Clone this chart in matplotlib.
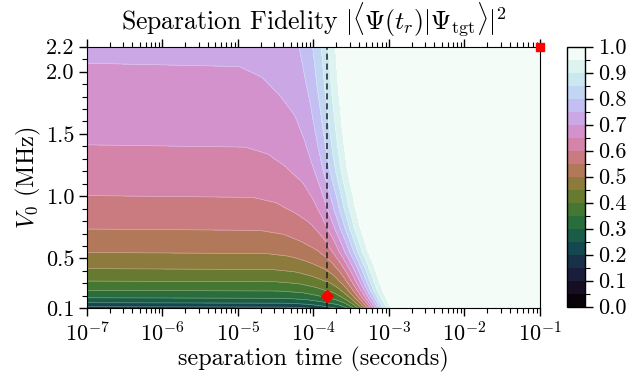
import numpy as np
import matplotlib
matplotlib.use("Agg")
import matplotlib.pyplot as plt
from matplotlib.ticker import MultipleLocator, FixedLocator, LogLocator, NullFormatter

plt.rcParams['font.family'] = 'serif'
plt.rcParams['font.serif'] = ['cmr10']
plt.rcParams['mathtext.fontset'] = 'cm'
plt.rcParams['axes.formatter.use_mathtext'] = True
plt.rcParams['axes.unicode_minus'] = False

# ---- data ----
# trap depth rows (MHz) and the plateau fidelity reached for short separation times
V0_rows = [0.10, 0.113, 0.145, 0.185, 0.245, 0.32, 0.42, 0.55, 0.64, 0.74, 0.90, 1.01,
           1.10, 1.20, 1.30, 1.42, 1.55, 1.70, 1.85, 1.95, 2.08, 2.20]
plateau_F = [0.175, 0.20, 0.25, 0.30, 0.35, 0.40, 0.45, 0.50, 0.525, 0.55, 0.582, 0.60,
             0.612, 0.625, 0.637, 0.65, 0.661, 0.673, 0.685, 0.692, 0.70, 0.708]
# shift (decades) of the transition towards longer times for each row
row_shift = [0.64, 0.63, 0.61, 0.58, 0.54, 0.50, 0.45, 0.37, 0.33, 0.28, 0.22, 0.19,
             0.16, 0.13, 0.11, 0.09, 0.07, 0.05, 0.03, 0.02, 0.01, 0.0]
# remaining infidelity fraction vs log10(time) for the top row
profile_logt = [-8.0, -5.0, -4.7, -4.5, -4.3, -4.2, -4.1, -4.0, -3.9, -3.8, -3.7, -3.6, -3.5, -3.4, 0.0]
profile_r = [1.0, 0.992, 0.975, 0.946, 0.905, 0.861, 0.787, 0.670, 0.517, 0.333, 0.157, 0.050, 0.0067, 0.0, 0.0]

t_sep = 1.5e-4      # dashed line / marker
V0_mark = 0.2
t_max, V0_max = 1e-1, 2.2

x_ticks = [1e-7, 1e-6, 1e-5, 1e-4, 1e-3, 1e-2, 1e-1]
y_ticks = [0.1, 0.5, 1.0, 1.5, 2.0, 2.2]
cb_ticks = [0.0, 0.1, 0.2, 0.3, 0.4, 0.5, 0.6, 0.7, 0.8, 0.9, 1.0]

# ---- field ----
logt = np.linspace(-7, -1, 600)
T = 10 ** logt
F = np.zeros((len(V0_rows), len(logt)))
for i in range(len(V0_rows)):
    r = np.interp(logt - row_shift[i], profile_logt, profile_r)
    F[i] = 1 - (1 - plateau_F[i]) * r

fig = plt.figure(figsize=(6.44, 3.73), dpi=100)
ax = fig.add_axes([87/644, 1-308.3/373, (540-87)/644, (308.3-46.7)/373])
cax = fig.add_axes([566.7/644, 1-306.7/373, 18.3/644, 260/373])

levels = np.linspace(0, 1, 21)
cs = ax.contourf(T, V0_rows, F, levels=levels, cmap='cubehelix', vmin=0, vmax=1)
ax.contour(T, V0_rows, F, levels=levels, colors='white', linewidths=0.4, alpha=0.45)

ax.set_xscale('log')
ax.set_xlim(1e-7, 1e-1)
ax.set_ylim(0.1, 2.2)
ax.axvline(t_sep, color='#222222', ls='--', lw=1.1, dashes=(4, 2.5))
ax.plot([t_sep], [V0_mark], marker='D', color='red', ms=6, zorder=5, clip_on=False)
ax.plot([t_max], [V0_max], marker='s', color='red', ms=6, zorder=5, clip_on=False)

ax.set_xticks(x_ticks)
ax.xaxis.set_minor_locator(LogLocator(base=10, subs=np.arange(2, 10), numticks=20))
ax.xaxis.set_minor_formatter(NullFormatter())
ax.yaxis.set_major_locator(FixedLocator(y_ticks))
ax.set_yticklabels(['0.1', '0.5', '1.0', '1.5', '2.0', '2.2'])
ax.yaxis.set_minor_locator(MultipleLocator(0.1))
ax.tick_params(which='both', direction='out', top=True, right=False, labelsize=16)
ax.tick_params(which='major', length=6, width=1, pad=3)
ax.tick_params(which='minor', length=3.5, width=0.8)

ax.set_xlabel('separation time (seconds)', fontsize=17.5, labelpad=1)
ax.set_ylabel(r'$V_0$ (MHz)', fontsize=17.5, labelpad=2)
ax.set_title(r'Separation Fidelity $|\langle\Psi(t_r)|\Psi_{\rm tgt}\rangle|^2$', fontsize=18.5, pad=13)

cb = fig.colorbar(cs, cax=cax, ticks=cb_ticks)
cb.ax.set_yticklabels(['%.1f' % v for v in cb_ticks])
cb.ax.yaxis.set_minor_locator(MultipleLocator(0.05))
cb.ax.tick_params(which='major', length=6, width=1, labelsize=16)
cb.ax.tick_params(which='minor', length=3.5, width=0.8)
cb.outline.set_linewidth(1)

fig.savefig('out.png', dpi=100)
